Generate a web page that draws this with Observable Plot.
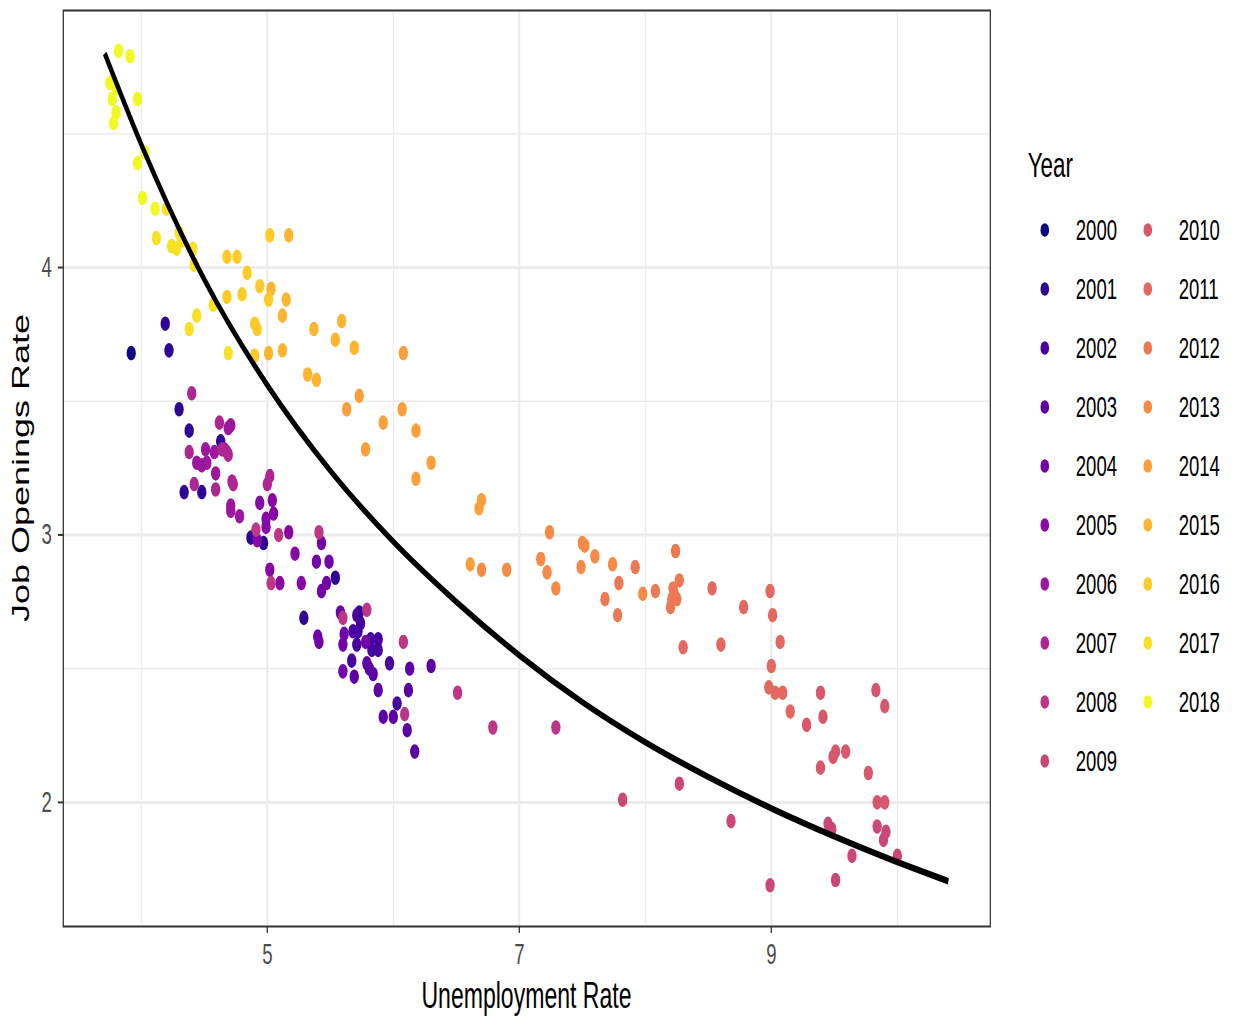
<!DOCTYPE html>
<html>
<head>
<meta charset="utf-8">
<script src="https://cdn.jsdelivr.net/npm/d3@7"></script>
<script src="https://cdn.jsdelivr.net/npm/@observablehq/plot@0.6"></script>
<style>
  html, body { margin: 0; padding: 0; background: #ffffff; overflow: hidden; }
  #wrap { display: flex; flex-direction: row; width: 1236px; height: 1021px; background: #fff; }
</style>
</head>
<body>
<div id="wrap"></div>
<script>
// ---------- data ----------
const years = [2000, 2001, 2002, 2003, 2004, 2005, 2006, 2007, 2008, 2009,
               2010, 2011, 2012, 2013, 2014, 2015, 2016, 2017, 2018];

// unemployment rate, one list per year (same order as `years`)
const unemployment = [
  [3.92],
  [4.19, 4.22, 4.30, 4.38, 4.34, 4.48, 4.63, 4.87, 4.97, 5.29, 5.54, 5.73],
  [5.71, 5.74, 5.72, 5.68, 5.88, 5.82, 5.83, 5.88, 5.71, 5.67, 6.03, 5.97],
  [5.81, 5.84, 5.79, 5.92, 6.00, 6.11, 6.17, 6.30, 6.13, 6.12, 5.88, 5.69],
  [5.60, 5.61, 5.60, 5.78, 5.58, 5.40, 5.41, 5.43, 5.47, 5.49, 5.43, 5.39],
  [5.27, 5.22, 5.17, 5.10, 5.02, 4.92, 4.99, 4.99, 5.05, 5.04, 4.94],
  [4.71, 4.71, 4.78, 4.59, 4.58, 4.44, 4.48, 4.52, 4.51, 4.69, 4.71, 4.66],
  [4.40, 4.62, 4.38, 4.42, 4.59, 4.64, 4.68, 4.69, 4.72, 4.73, 5.02, 5.00],
  [5.03, 4.91, 5.09, 5.41, 5.60, 5.79, 6.08, 6.09, 6.51, 6.79, 7.29],
  [7.82, 8.27, 8.68, 8.99, 9.51, 9.45, 9.48, 9.64, 10.00, 9.84, 9.91, 9.89],
  [9.84, 9.90, 9.77, 9.39, 9.51, 9.49, 9.59, 9.83, 9.90, 9.39, 9.41, 9.28],
  [9.15, 8.98, 9.03, 9.09, 9.00, 9.07, 9.01, 8.99, 8.78, 8.60, 8.53, 8.30],
  [8.24, 8.27, 8.22, 8.23, 8.21, 8.25, 8.20, 8.08, 7.79, 7.78, 7.68, 7.92],
  [7.98, 7.74, 7.60, 7.50, 7.52, 7.49, 7.29, 7.22, 7.17, 7.24, 6.90, 6.70],
  [6.61, 6.70, 6.68, 6.18, 6.30, 6.18, 6.07, 5.92, 5.78, 5.73, 5.63, 6.08],
  [5.69, 5.54, 5.59, 5.39, 5.32, 5.37, 5.17, 5.12, 5.12, 5.01, 5.03, 5.15],
  [4.90, 4.90, 4.92, 5.01, 4.94, 4.84, 5.02, 4.76, 4.68, 4.80, 4.68],
  [4.69, 4.57, 4.44, 4.38, 4.42, 4.41, 4.28, 4.24, 4.32, 4.30, 4.12, 4.20],
  [4.11, 4.01, 4.03, 3.97, 3.78, 3.80, 3.97, 3.77, 3.80, 3.75, 3.91, 3.82]
];

// job openings rate, one list per year (same order as `years`)
const jobOpenings = [
  [3.68],
  [3.79, 3.69, 3.47, 3.39, 3.16, 3.16, 3.35, 2.99, 2.97, 2.69, 2.84, 2.71],
  [2.70, 2.67, 2.64, 2.64, 2.61, 2.61, 2.57, 2.57, 2.59, 2.53, 2.37, 2.52],
  [2.50, 2.48, 2.52, 2.32, 2.32, 2.27, 2.19, 2.51, 2.50, 2.42, 2.42, 2.47],
  [2.49, 2.63, 2.59, 2.60, 2.71, 2.62, 2.60, 2.79, 2.82, 2.90, 2.97, 2.90],
  [2.82, 2.93, 3.01, 2.82, 2.87, 2.98, 3.03, 3.06, 3.08, 3.13, 3.12],
  [3.11, 3.09, 3.07, 3.23, 3.31, 3.27, 3.26, 3.27, 3.32, 3.40, 3.41, 3.32],
  [3.53, 3.42, 3.31, 3.19, 3.17, 3.32, 3.31, 3.30, 3.20, 3.19, 3.22, 3.19],
  [2.82, 3.02, 3.00, 3.01, 2.69, 2.72, 2.60, 2.33, 2.41, 2.28, 2.28],
  [2.01, 2.07, 1.93, 1.69, 1.71, 1.92, 1.90, 1.80, 1.80, 1.91, 1.89, 1.86],
  [2.00, 2.00, 2.11, 2.13, 2.19, 2.17, 2.19, 2.42, 2.36, 2.41, 2.32, 2.29],
  [2.34, 2.43, 2.41, 2.41, 2.51, 2.60, 2.70, 2.79, 2.73, 2.59, 2.80, 2.58],
  [2.94, 2.83, 2.80, 2.78, 2.76, 2.76, 2.73, 2.79, 2.82, 2.70, 2.76, 2.88],
  [2.78, 2.89, 2.92, 2.97, 2.96, 2.88, 2.80, 2.86, 2.91, 3.01, 2.87, 2.87],
  [2.89, 3.13, 3.10, 3.21, 3.27, 3.39, 3.47, 3.42, 3.32, 3.52, 3.47, 3.68],
  [3.70, 3.73, 3.80, 3.58, 3.60, 3.77, 4.12, 3.82, 3.69, 3.68, 3.92, 3.88],
  [3.67, 3.79, 3.77, 3.88, 3.93, 3.98, 4.12, 4.04, 4.04, 3.90, 3.89],
  [3.68, 3.86, 3.82, 3.77, 4.01, 4.07, 4.07, 4.08, 4.10, 4.13, 4.11, 4.22],
  [4.22, 4.26, 4.43, 4.39, 4.54, 4.58, 4.63, 4.63, 4.67, 4.69, 4.79, 4.81]
];

// fitted curve
const curveUnemployment = [3.71, 4.0, 4.5, 5.0, 5.5, 6.0, 6.5, 7.0, 7.5, 8.0, 8.5, 9.0, 9.5, 10.0, 10.405];
const curveJobOpenings  = [4.80, 4.46, 3.955, 3.56, 3.24, 2.975, 2.75, 2.55, 2.375, 2.225, 2.095, 1.978, 1.873, 1.777, 1.705];

const xTicks = [5, 7, 9];
const yTicks = [2, 3, 4];
const xMinor = [4, 6, 8, 10];
const yMinor = [2.5, 3.5, 4.5];

// ---------- build tables ----------
const points = [];
years.forEach((yr, i) => {
  unemployment[i].forEach((u, k) => points.push({year: yr, u, j: jobOpenings[i][k]}));
});
const curve = curveUnemployment.map((u, k) => ({u, j: curveJobOpenings[k]}));
const palette = years.map((d, i) => d3.interpolatePlasma(i / (years.length - 1)));

// The reference is horizontally compressed; draw at natural width and squeeze.
const S = 0.64;
const PW = 1580, LW = 351, H = 1021;
const FONT = "'Liberation Sans', Arial, Helvetica, sans-serif";

const chart = Plot.plot({
  width: PW, height: H,
  marginLeft: 98.4, marginRight: 33.1, marginTop: 10, marginBottom: 95,
  style: {fontFamily: FONT, background: "#ffffff", overflow: "visible"},
  x: {domain: [3.381, 10.738]},
  y: {domain: [1.536, 4.961]},
  color: {type: "ordinal", domain: years, range: palette},
  marks: [
    Plot.gridX(xMinor, {stroke: "#ebebeb", strokeOpacity: 1, strokeWidth: 1.8}),
    Plot.gridY(yMinor, {stroke: "#ebebeb", strokeOpacity: 1, strokeWidth: 1.5}),
    Plot.gridX(xTicks, {stroke: "#ebebeb", strokeOpacity: 1, strokeWidth: 3.2}),
    Plot.gridY(yTicks, {stroke: "#ebebeb", strokeOpacity: 1, strokeWidth: 3}),
    Plot.dot(points, {x: "u", y: "j", fill: "year", r: 7.3}),
    Plot.line(curve, {x: "u", y: "j", stroke: "black", strokeWidth: 6.5, curve: "monotone-x", strokeLinecap: "butt"}),
    Plot.frame({stroke: "#333333", strokeWidth: 2}),
    Plot.axisX({ticks: xTicks, tickFormat: d => String(d), tickSize: 7, tickPadding: 10, fontSize: 29, label: null}),
    Plot.axisY({ticks: yTicks, tickFormat: d => String(d), tickSize: 8, tickPadding: 10, fontSize: 29, label: null})
  ]
});

const svg = d3.select(chart);
svg.selectAll('g[aria-label="x-axis tick label"], g[aria-label="y-axis tick label"]')
  .attr("fill", "#4d4d4d");
svg.selectAll('g[aria-label="x-axis tick label"] text, g[aria-label="y-axis tick label"] text')
  .attr("fill", "#4d4d4d");
svg.selectAll('g[aria-label="x-axis tick"], g[aria-label="y-axis tick"]')
  .attr("stroke", "#333333").attr("stroke-width", 2);

// axis titles
svg.append("text")
  .attr("x", (98.4 + (PW - 33.1)) / 2).attr("y", 1008)
  .attr("text-anchor", "middle")
  .attr("font-family", FONT).attr("font-size", 36).attr("fill", "#000")
  .text("Unemployment Rate");
svg.append("text")
  .attr("transform", "translate(46,468) rotate(-90)")
  .attr("text-anchor", "middle")
  .attr("font-family", FONT).attr("font-size", 36).attr("fill", "#000")
  .text("Job Openings Rate");

function squeeze(node, w) {
  node.setAttribute("viewBox", `0 0 ${w} ${H}`);
  node.setAttribute("width", w * S);
  node.setAttribute("height", H);
  node.setAttribute("preserveAspectRatio", "none");
  node.style.maxWidth = "none";
  node.style.width = (w * S) + "px";
  node.style.height = H + "px";
  node.style.display = "block";
  node.style.flex = "none";
}
squeeze(chart, PW);

// ---------- legend ----------
const legend = d3.create("svg")
  .attr("xmlns", "http://www.w3.org/2000/svg")
  .style("background", "#ffffff");
legend.append("text")
  .attr("x", 26).attr("y", 177)
  .attr("font-family", FONT).attr("font-size", 35).attr("fill", "#000")
  .text("Year");
const colorOf = chart.scale("color");
years.forEach((yr, i) => {
  const col = i < 10 ? 0 : 1;
  const row = i < 10 ? i : i - 10;
  const cy = 230 + 59 * row;
  const cx = col === 0 ? 52.8 : 213.75;
  const tx = col === 0 ? 101.25 : 262;
  const g = legend.append("g");
  g.append("circle").attr("cx", cx).attr("cy", cy).attr("r", 6.8)
    .attr("fill", colorOf.apply(yr));
  g.append("text").attr("x", tx).attr("y", cy).attr("dy", "0.36em")
    .attr("font-family", FONT).attr("font-size", 29).attr("fill", "#000")
    .text(String(yr));
});
const legendNode = legend.node();
squeeze(legendNode, LW);

const wrap = document.getElementById("wrap");
wrap.appendChild(chart);
wrap.appendChild(legendNode);
</script>
</body>
</html>
